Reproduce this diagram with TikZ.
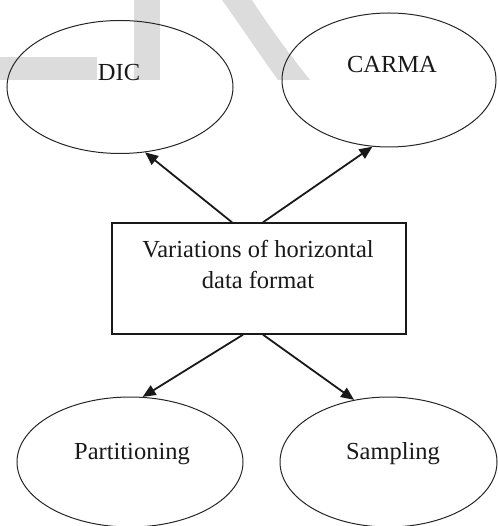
\documentclass[tikz,border=0pt]{standalone}
\usepackage{fontspec}
\setmainfont{Liberation Serif}
\usetikzlibrary{arrows.meta,shapes.geometric,calc}
\definecolor{wm}{HTML}{DCDCDC}
\tikzset{
  oval/.style={ellipse,draw=black!85,line width=1pt,inner sep=0pt},
  boxnode/.style={rectangle,draw=black!90,line width=1.4pt,inner sep=0pt},
  lbl/.style={inner sep=0pt,font=\fontsize{24.5}{31}\selectfont,text=black!90},
  arr/.style={draw=black!90,line width=1.8pt,-{Triangle[length=13pt,width=11pt]}},
}
\begin{document}
\begin{tikzpicture}[x=1pt,y=-1pt]
\useasboundingbox (0,0) rectangle (497,526);
% watermark
\fill[wm] (0,57) rectangle (97,80);
\fill[wm] (134,0) rectangle (160,80);
\fill[wm] (222,0) .. controls (238,22) and (255,48) .. (278,80)
  -- (310,80) .. controls (290,55) and (268,25) .. (252,0) -- cycle;
% nodes
\node[oval,minimum width=226pt,minimum height=133pt] (dic) at (120,87) {};
\node[oval,minimum width=214pt,minimum height=134pt] (carma) at (389,80) {};
\node[oval,minimum width=226pt,minimum height=130pt] (part) at (130,462) {};
\node[oval,minimum width=217pt,minimum height=130pt] (samp) at (388.5,462) {};
\node[boxnode,minimum width=294pt,minimum height=111pt] (box) at (259,278.5) {};
% labels
\node[lbl,anchor=base] (tdic) at (119,81) {DIC};
\node[lbl,anchor=base] (tcarma) at (392,73) {CARMA};
\node[lbl,anchor=base] (tpart) at (132,459) {Partitioning};
\node[lbl,anchor=base] (tsamp) at (393,459) {Sampling};
\node[lbl,anchor=base,align=center] (tbox) at (258,288) {Variations of horizontal\\data format};
% connectors
\draw[arr] ($(box.north)+(-27,0)$) -- (dic.-69);
\draw[arr] ($(box.north)+(4,0)$) -- (carma.-104);
\draw[arr] ($(box.south)+(-16,0)$) -- (part.79);
\draw[arr] ($(box.south)+(4,0)$) -- (samp.119);
\end{tikzpicture}
\end{document}
